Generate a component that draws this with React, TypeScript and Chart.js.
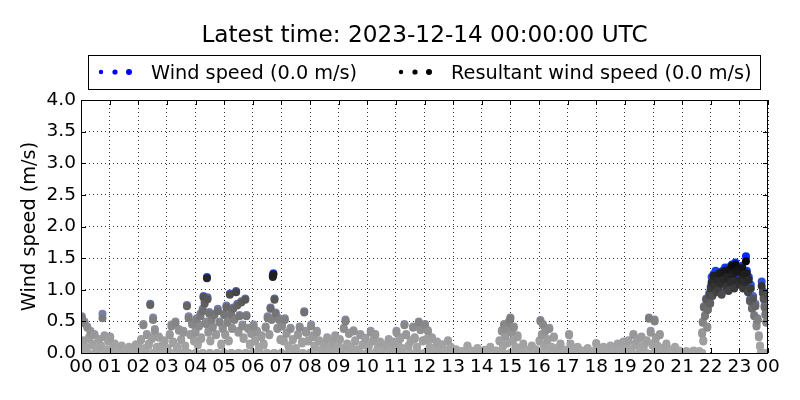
import React, { useEffect, useRef } from "react";
import { Chart, registerables } from "chart.js";

Chart.register(...registerables);

// ---------- text ----------
const titleText = "Latest time: 2023-12-14 00:00:00 UTC";
const windLabel = "Wind speed (0.0 m/s)";
const resultantLabel = "Resultant wind speed (0.0 m/s)";
const yAxisLabel = "Wind speed (m/s)";

// ---------- ticks ----------
const xTickLabels = [
  "00", "01", "02", "03", "04", "05", "06", "07", "08", "09", "10", "11", "12",
  "13", "14", "15", "16", "17", "18", "19", "20", "21", "22", "23", "00",
];
const yMin = 0;
const yMax = 4;
const yStep = 0.5;

// ---------- data (parallel arrays): hour of day, wind speed, resultant wind speed (m/s) ----------
const sampleHours = [
  0.03, 0.08, 0.12, 0.17, 0.22, 0.28, 0.33, 0.4, 0.47, 0.55, 0.62, 0.7, 0.75, 0.82, 0.9, 0.95,
  1.02, 1.1, 1.18, 1.3, 1.42, 1.55, 1.68, 1.8, 1.92,
  2.03, 2.1, 2.18, 2.24, 2.3, 2.37, 2.42, 2.48, 2.52, 2.58, 2.65, 2.72, 2.82, 2.92,
  3.02, 3.1, 3.16, 3.22, 3.3, 3.36, 3.42, 3.5, 3.58, 3.64, 3.7, 3.76, 3.82, 3.88, 3.95,
  4.0, 4.04, 4.08, 4.12, 4.17, 4.2, 4.25, 4.28, 4.32, 4.36, 4.4, 4.42, 4.45, 4.48, 4.52, 4.56, 4.6, 4.66, 4.72, 4.78, 4.84, 4.9, 4.95,
  5.0, 5.04, 5.08, 5.12, 5.16, 5.2, 5.24, 5.28, 5.32, 5.36, 5.42, 5.46, 5.5, 5.54, 5.6, 5.64, 5.68, 5.74, 5.78, 5.84, 5.9, 5.95,
  6.03, 6.08, 6.15, 6.22, 6.3, 6.38, 6.45, 6.52, 6.58, 6.62, 6.66, 6.7, 6.72, 6.76, 6.8, 6.86, 6.92, 6.97,
  7.02, 7.08, 7.12, 7.18, 7.25, 7.32, 7.4, 7.5, 7.58, 7.64, 7.72, 7.8, 7.86, 7.94,
  8.04, 8.1, 8.16, 8.24, 8.32, 8.42, 8.5, 8.6, 8.7, 8.78, 8.88, 8.96,
  9.04, 9.1, 9.18, 9.24, 9.3, 9.36, 9.44, 9.52, 9.58, 9.66, 9.76, 9.84, 9.93,
  10.05, 10.12, 10.2, 10.28, 10.36, 10.45, 10.55, 10.65, 10.75, 10.84, 10.93,
  11.02, 11.08, 11.15, 11.22, 11.3, 11.36, 11.44, 11.52, 11.6, 11.66, 11.74, 11.8, 11.86, 11.94,
  12.02, 12.06, 12.12, 12.18, 12.26, 12.34, 12.44, 12.54, 12.62, 12.72, 12.82, 12.92,
  13.1, 13.3, 13.5, 13.62, 13.85,
  14.1, 14.3, 14.5, 14.62, 14.7, 14.74, 14.78, 14.82, 14.86, 14.9, 14.95,
  15.0, 15.04, 15.08, 15.12, 15.18, 15.25, 15.35, 15.45, 15.6, 15.75, 15.9,
  16.02, 16.05, 16.1, 16.14, 16.18, 16.22, 16.3, 16.36, 16.44, 16.52, 16.62, 16.75, 16.9,
  17.05, 17.1, 17.2, 17.35, 17.5, 17.7, 17.9,
  18.0, 18.1, 18.25, 18.4, 18.5, 18.62, 18.75, 18.85, 18.95,
  19.04, 19.12, 19.2, 19.3, 19.36, 19.44, 19.52, 19.58, 19.66, 19.76, 19.84, 19.9, 19.96,
  20.04, 20.08, 20.14, 20.22, 20.32, 20.45, 20.6, 20.75, 20.9,
  21.15, 21.4, 21.6, 21.7, 21.72, 21.74, 21.76, 21.8, 21.84, 21.88, 21.9, 21.95, 21.98,
  22.0, 22.03, 22.06, 22.1, 22.13, 22.17, 22.2, 22.24, 22.27, 22.3, 22.34, 22.38, 22.42, 22.46, 22.5, 22.54, 22.58, 22.62, 22.66, 22.7, 22.74, 22.78, 22.82, 22.86, 22.9, 22.94, 22.97,
  23.0, 23.03, 23.06, 23.1, 23.13, 23.16, 23.2, 23.23, 23.26, 23.3, 23.33, 23.37, 23.4, 23.44, 23.48, 23.52, 23.56, 23.6, 23.64, 23.68, 23.72, 23.78, 23.82, 23.85, 23.88, 23.91, 23.94, 23.97,
];

const windSpeed = [
  0.58, 0.2, 0.5, 0.1, 0.42, 0.25, 0.35, 0.15, 0.3, 0.08, 0.22, 0.12, 0.62, 0.28, 0.06, 0.2,
  0.26, 0.08, 0.15, 0.05, 0.12, 0.04, 0.1, 0.06, 0.14,
  0.1, 0.22, 0.46, 0.08, 0.3, 0.15, 0.78, 0.25, 0.56, 0.38, 0.1, 0.26, 0.12, 0.2,
  0.08, 0.3, 0.45, 0.18, 0.5, 0.1, 0.38, 0.22, 0.35, 0.12, 0.76, 0.58, 0.3, 0.48, 0.2,
  0.35, 0.55, 0.15, 0.45, 0.62, 0.25, 0.7, 0.9, 0.82, 0.5, 1.2, 0.88, 0.35, 0.65, 0.2, 0.55, 0.42, 0.62, 0.3, 0.7, 0.5, 0.15, 0.4,
  0.62, 0.3, 0.75, 0.5, 0.2, 0.94, 0.62, 0.4, 0.72, 0.55, 0.98, 0.78, 0.35, 0.6, 0.82, 0.45, 0.25, 0.86, 0.6, 0.4, 0.15, 0.32,
  0.45, 0.2, 0.35, 0.1, 0.28, 0.15, 0.42, 0.58, 0.3, 0.72, 0.55, 1.23, 1.26, 0.86, 0.64, 0.4, 0.55, 0.22,
  0.45, 0.2, 0.55, 0.32, 0.12, 0.4, 0.22, 0.08, 0.3, 0.42, 0.18, 0.66, 0.35, 0.2,
  0.45, 0.28, 0.12, 0.35, 0.2, 0.06, 0.15, 0.25, 0.08, 0.18, 0.28, 0.1,
  0.22, 0.08, 0.4, 0.53, 0.15, 0.32, 0.1, 0.36, 0.2, 0.06, 0.3, 0.14, 0.24,
  0.12, 0.35, 0.2, 0.3, 0.08, 0.18, 0.05, 0.14, 0.22, 0.1, 0.18,
  0.35, 0.15, 0.25, 0.08, 0.46, 0.3, 0.12, 0.2, 0.42, 0.25, 0.1, 0.5, 0.38, 0.2,
  0.46, 0.22, 0.36, 0.1, 0.25, 0.08, 0.18, 0.06, 0.14, 0.05, 0.2, 0.1,
  0.06, 0.03, 0.12, 0.04, 0.08,
  0.05, 0.1, 0.04, 0.2, 0.36, 0.12, 0.46, 0.28, 0.4, 0.18, 0.5,
  0.56, 0.35, 0.2, 0.42, 0.1, 0.28, 0.08, 0.15, 0.05, 0.12, 0.06,
  0.2, 0.52, 0.3, 0.46, 0.12, 0.36, 0.22, 0.4, 0.1, 0.26, 0.08, 0.15, 0.05,
  0.3, 0.15, 0.06, 0.1, 0.04, 0.08, 0.03,
  0.16, 0.06, 0.1, 0.04, 0.12, 0.06, 0.15, 0.08, 0.18,
  0.1, 0.2, 0.06, 0.3, 0.15, 0.22, 0.08, 0.26, 0.12, 0.2, 0.56, 0.35, 0.15,
  0.53, 0.25, 0.12, 0.3, 0.08, 0.15, 0.05, 0.1, 0.04,
  0.03, 0.04, 0.03, 0.33, 0.5, 0.2, 0.74, 0.6, 0.86, 0.42, 0.7, 0.95, 0.8,
  1.05, 1.2, 0.92, 1.25, 1.1, 1.3, 0.98, 1.18, 1.05, 1.28, 1.12, 0.95, 1.3, 1.2, 1.35, 1.08, 1.22, 1.0, 1.36, 1.15, 1.4, 1.26, 1.05, 1.43, 1.3, 1.18, 1.36,
  1.1, 1.3, 1.2, 1.38, 1.05, 1.28, 1.15, 1.53, 1.3, 1.0, 1.2, 0.85, 1.08, 0.72, 0.9, 0.6, 0.78, 0.45, 0.55, 0.28, 0.12, 1.13, 0.98, 0.88, 0.75, 0.62, 0.5, 0.95,
];

const resultantWindSpeed = [
  0.55, 0.18, 0.47, 0.08, 0.4, 0.22, 0.32, 0.12, 0.28, 0.06, 0.2, 0.1, 0.55, 0.25, 0.05, 0.18,
  0.24, 0.06, 0.12, 0.04, 0.1, 0.03, 0.08, 0.05, 0.12,
  0.08, 0.2, 0.44, 0.06, 0.28, 0.12, 0.76, 0.22, 0.52, 0.35, 0.08, 0.24, 0.1, 0.18,
  0.06, 0.28, 0.42, 0.15, 0.47, 0.08, 0.35, 0.2, 0.32, 0.1, 0.74, 0.55, 0.28, 0.45, 0.18,
  0.32, 0.52, 0.12, 0.42, 0.58, 0.22, 0.66, 0.88, 0.78, 0.46, 1.18, 0.85, 0.32, 0.62, 0.18, 0.52, 0.4, 0.6, 0.28, 0.66, 0.48, 0.12, 0.38,
  0.6, 0.28, 0.72, 0.48, 0.18, 0.92, 0.6, 0.38, 0.7, 0.52, 0.96, 0.75, 0.32, 0.58, 0.8, 0.42, 0.22, 0.84, 0.58, 0.38, 0.12, 0.3,
  0.42, 0.18, 0.32, 0.08, 0.25, 0.12, 0.4, 0.55, 0.28, 0.7, 0.52, 1.2, 1.24, 0.84, 0.62, 0.38, 0.52, 0.2,
  0.42, 0.18, 0.52, 0.3, 0.1, 0.38, 0.2, 0.06, 0.28, 0.4, 0.15, 0.64, 0.32, 0.18,
  0.42, 0.25, 0.1, 0.32, 0.18, 0.05, 0.12, 0.22, 0.06, 0.15, 0.25, 0.08,
  0.2, 0.06, 0.38, 0.5, 0.12, 0.3, 0.08, 0.34, 0.18, 0.05, 0.28, 0.12, 0.22,
  0.1, 0.32, 0.18, 0.28, 0.06, 0.15, 0.04, 0.12, 0.2, 0.08, 0.15,
  0.32, 0.12, 0.22, 0.06, 0.44, 0.28, 0.1, 0.18, 0.4, 0.22, 0.08, 0.48, 0.36, 0.18,
  0.44, 0.2, 0.34, 0.08, 0.22, 0.06, 0.15, 0.05, 0.12, 0.04, 0.18, 0.08,
  0.05, 0.02, 0.1, 0.03, 0.06,
  0.04, 0.08, 0.03, 0.18, 0.34, 0.1, 0.44, 0.26, 0.38, 0.15, 0.48,
  0.54, 0.32, 0.18, 0.4, 0.08, 0.25, 0.06, 0.12, 0.04, 0.1, 0.05,
  0.18, 0.5, 0.28, 0.44, 0.1, 0.34, 0.2, 0.38, 0.08, 0.24, 0.06, 0.12, 0.04,
  0.28, 0.12, 0.05, 0.08, 0.03, 0.06, 0.02,
  0.14, 0.05, 0.08, 0.03, 0.1, 0.05, 0.12, 0.06, 0.15,
  0.08, 0.18, 0.05, 0.28, 0.12, 0.2, 0.06, 0.24, 0.1, 0.18, 0.54, 0.32, 0.12,
  0.5, 0.22, 0.1, 0.28, 0.06, 0.12, 0.04, 0.08, 0.03,
  0.02, 0.03, 0.02, 0.3, 0.48, 0.18, 0.72, 0.58, 0.84, 0.4, 0.68, 0.92, 0.78,
  1.02, 1.12, 0.9, 1.22, 1.06, 1.22, 0.96, 1.15, 1.0, 1.26, 1.1, 0.92, 1.28, 1.16, 1.3, 1.04, 1.2, 0.98, 1.32, 1.12, 1.38, 1.24, 1.02, 1.4, 1.28, 1.14, 1.34,
  1.08, 1.28, 1.16, 1.34, 1.02, 1.25, 1.12, 1.45, 1.26, 0.96, 1.16, 0.82, 1.02, 0.7, 0.86, 0.58, 0.74, 0.42, 0.52, 0.25, 0.1, 1.06, 0.95, 0.85, 0.72, 0.6, 0.48, 0.92,
];

// hours with calm (0.0 m/s) readings for both series
const calmHours = [
  0, 0.25, 0.5, 0.75, 1, 1.25, 1.5, 1.75, 2, 2.25, 2.5, 2.75, 3, 3.25, 3.5, 3.75,
  4, 4.25, 4.5, 4.75, 5, 5.25, 5.5, 5.75, 6, 6.25, 6.5, 6.75, 7, 7.25, 7.5, 7.75,
  8, 8.25, 8.5, 8.75, 9, 9.25, 9.5, 9.75, 10, 10.25, 10.5, 10.75, 11, 11.25, 11.5, 11.75,
  12, 12.25, 12.5, 12.75, 13, 13.25, 13.5, 13.75, 14, 14.25, 14.5, 14.75, 15, 15.25, 15.5, 15.75,
  16, 16.25, 16.5, 16.75, 17, 17.25, 17.5, 17.75, 18, 18.25, 18.5, 18.75, 19, 19.25, 19.5, 19.75,
  20, 20.25, 20.5, 20.75, 21, 21.25, 21.5, 21.7, 23.75, 23.9,
];

// ---------- colour ramps (value -> colour) ----------
const grayStops: [number, number][] = [
  [0, 168], [0.25, 155], [0.5, 130], [0.75, 100], [0.9, 80], [1.05, 52], [1.25, 30], [1.45, 5],
];
const blueStops: [number, number, number, number][] = [
  [0, 168, 168, 172], [0.5, 135, 140, 160], [0.8, 100, 112, 180], [1.1, 45, 80, 225], [1.5, 0, 40, 255],
];

function ramp1(stops: [number, number][], v: number) {
  if (v <= stops[0][0]) return stops[0][1];
  for (let i = 1; i < stops.length; i++) {
    if (v <= stops[i][0]) {
      const [x0, y0] = stops[i - 1];
      const [x1, y1] = stops[i];
      return y0 + ((v - x0) / (x1 - x0)) * (y1 - y0);
    }
  }
  return stops[stops.length - 1][1];
}
function resColor(v: number) {
  const g = Math.round(ramp1(grayStops, v));
  return `rgb(${g},${g},${g})`;
}
function windColor(v: number) {
  const ch = [1, 2, 3].map((k) =>
    Math.round(ramp1(blueStops.map((s) => [s[0], s[k]] as [number, number]), v))
  );
  return `rgb(${ch[0]},${ch[1]},${ch[2]})`;
}

const FONT = "'DejaVu Sans', sans-serif";

const decorPlugin = {
  id: "decor",
  afterDatasetsDraw(chart: any) {
    const { ctx, chartArea: a, scales } = chart;
    ctx.save();
    ctx.strokeStyle = "#000";
    ctx.lineWidth = 1;
    ctx.beginPath();
    const tl = 5;
    for (const t of scales.x.ticks) {
      const px = Math.round(scales.x.getPixelForValue(t.value)) + 0.5;
      ctx.moveTo(px, a.bottom);
      ctx.lineTo(px, a.bottom - tl);
      ctx.moveTo(px, a.top);
      ctx.lineTo(px, a.top + tl);
    }
    for (const t of scales.y.ticks) {
      const py = Math.round(scales.y.getPixelForValue(t.value)) + 0.5;
      ctx.moveTo(a.left, py);
      ctx.lineTo(a.left + tl, py);
      ctx.moveTo(a.right, py);
      ctx.lineTo(a.right - tl, py);
    }
    ctx.stroke();
    ctx.strokeRect(a.left + 0.5, a.top + 0.5, a.right - a.left - 1, a.bottom - a.top);
    ctx.restore();
  },
  afterDraw(chart: any) {
    const { ctx, chartArea: a } = chart;
    ctx.save();
    ctx.fillStyle = "#000";
    // title
    ctx.font = `23.2px ${FONT}`;
    ctx.textAlign = "center";
    ctx.textBaseline = "alphabetic";
    ctx.fillText(titleText, (a.left + a.right) / 2, 42);

    // legend box
    ctx.lineWidth = 1;
    ctx.strokeStyle = "#000";
    ctx.strokeRect(88.5, 55.5, 672, 34);
    const dotY = 72;
    const radii = [2.2, 2.6, 3.0];
    const drawDots = (x0: number, color: string) => {
      ctx.fillStyle = color;
      radii.forEach((r, i) => {
        ctx.beginPath();
        ctx.arc(x0 + i * 14, dotY, r, 0, Math.PI * 2);
        ctx.fill();
      });
    };
    drawDots(101, "#0000ff");
    drawDots(401, "#000000");
    ctx.fillStyle = "#000";
    ctx.font = `19.3px ${FONT}`;
    ctx.textAlign = "left";
    ctx.fillText(windLabel, 151, 79);
    ctx.fillText(resultantLabel, 451, 79);

    // y axis label
    ctx.translate(35, (a.top + a.bottom) / 2);
    ctx.rotate(-Math.PI / 2);
    ctx.textAlign = "center";
    ctx.fillText(yAxisLabel, 0, 0);
    ctx.restore();
  },
};

export default function App() {
  const ref = useRef<HTMLCanvasElement | null>(null);
  useEffect(() => {
    if (!ref.current) return;
    const n = Math.min(sampleHours.length, windSpeed.length, resultantWindSpeed.length);
    const wsPoints = [
      ...calmHours.map((h) => ({ x: h, y: 0 })),
      ...sampleHours.slice(0, n).map((h, i) => ({ x: h, y: windSpeed[i] })),
    ];
    const resPoints = [
      ...calmHours.map((h) => ({ x: h, y: 0 })),
      ...sampleHours.slice(0, n).map((h, i) => ({ x: h, y: resultantWindSpeed[i] })),
    ];
    const chart = new Chart(ref.current, {
      type: "scatter",
      data: {
        datasets: [
          {
            label: resultantLabel,
            data: resPoints,
            pointRadius: 4,
            pointHoverRadius: 4,
            pointBorderWidth: 0,
            pointBackgroundColor: (c: any) => resColor(c.raw ? c.raw.y : 0),
            pointBorderColor: "rgba(0,0,0,0)",
            showLine: false,
            clip: 0,
            order: 0,
          },
          {
            label: windLabel,
            data: wsPoints,
            pointRadius: 4,
            pointHoverRadius: 4,
            pointBorderWidth: 0,
            pointBackgroundColor: (c: any) => windColor(c.raw ? c.raw.y : 0),
            pointBorderColor: "rgba(0,0,0,0)",
            showLine: false,
            clip: 0,
            order: 1,
          },
        ],
      },
      options: {
        animation: false,
        responsive: false,
        devicePixelRatio: 1,
        events: [],
        layout: { padding: { top: 100, right: 32, left: 0, bottom: 0 } },
        plugins: {
          legend: { display: false },
          title: { display: false },
          tooltip: { enabled: false },
        },
        scales: {
          x: {
            type: "linear",
            min: 0,
            max: 24,
            afterFit: (s: any) => {
              s.height = 47;
            },
            afterBuildTicks: (s: any) => {
              s.ticks = xTickLabels.map((_, i) => ({ value: i }));
            },
            ticks: {
              autoSkip: false,
              maxRotation: 0,
              minRotation: 0,
              padding: 3,
              color: "#000",
              font: { family: FONT, size: 18.5 },
              callback: (v: any) => xTickLabels[Math.round(Number(v))] ?? "",
            },
            grid: { color: "#000", lineWidth: 0.8, drawTicks: false },
            border: { display: false, dash: [1, 3] },
          },
          y: {
            type: "linear",
            min: yMin,
            max: yMax,
            afterFit: (s: any) => {
              s.width = 81;
            },
            ticks: {
              stepSize: yStep,
              padding: 5,
              color: "#000",
              font: { family: FONT, size: 18.5 },
              callback: (v: any) => Number(v).toFixed(1),
            },
            grid: { color: "#000", lineWidth: 0.8, drawTicks: false },
            border: { display: false, dash: [1, 3] },
          },
        },
      },
      plugins: [decorPlugin],
    } as any);
    return () => chart.destroy();
  }, []);
  return (
    <div style={{ position: "fixed", left: 0, top: 0, width: 800, height: 400, background: "#fff" }}>
      <canvas ref={ref} width={800} height={400} style={{ width: 800, height: 400, display: "block" }} />
    </div>
  );
}
